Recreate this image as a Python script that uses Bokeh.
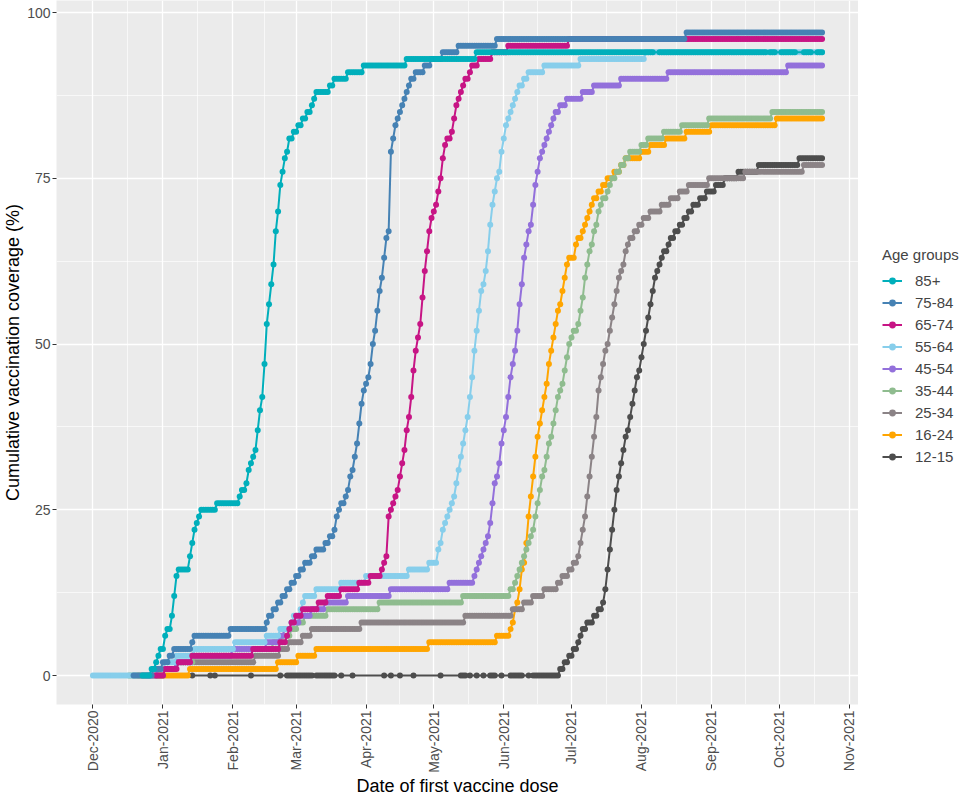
import datetime as dt
import numpy as np
from bokeh.plotting import figure
from bokeh.layouts import row
from bokeh.models import (FixedTicker, DatetimeTickFormatter, Legend, LegendItem,
                          ColumnDataSource, Range1d)
from bokeh.embed import file_html
from bokeh.resources import INLINE

# ---------------- data (day offsets from 1 Dec 2020, cumulative % first dose) -------------
START = dt.datetime(2020, 12, 1)
END_DAY = 323  # 20 Oct 2021

GROUPS = ["85+", "75-84", "65-74", "55-64", "45-54", "35-44", "25-34", "16-24", "12-15"]
COLORS = ["#00AFBB", "#4682B4", "#C71585", "#87CEEB", "#9370DB",
          "#8FBC8F", "#8B8386", "#FFA500", "#4D4D4D"]

# change points: value holds from that day until the next listed day
DAYS_85 = [22, 24, 26, 28, 29, 30, 32, 33, 35, 36, 37, 38, 43, 44, 45, 46, 47, 48, 55, 65,
           66, 68, 69, 70, 71, 72, 73, 74, 75, 76, 77, 78, 79, 80, 81, 82, 83, 84, 85, 86,
           87, 89, 91, 93, 95, 97, 98, 99, 105, 107, 113, 120, 139, 170]
VALS_85 = [0, 0, 1, 2, 3, 4, 6, 7, 9, 12, 15, 16, 18, 20, 22, 23, 24, 25, 26, 27,
           28, 29, 31, 32, 33, 34, 37, 40, 42, 47, 53, 56, 59, 62, 67, 70, 74, 76, 78, 79,
           81, 82, 83, 84, 85, 86, 87, 88, 89, 90, 91, 92, 93, 94]
MISSING_85 = [249, 250, 299, 303, 304, 312, 313, 314, 319, 320]

DAYS_75 = [18, 24, 27, 31, 34, 36, 44, 45, 61, 77, 78, 80, 82, 84, 86, 88, 90, 92, 94, 97,
           99, 103, 105, 107, 108, 109, 110, 112, 113, 114, 115, 116, 117, 118, 119, 120, 121,
           122, 123, 124, 125, 126, 127, 128, 129, 130, 131, 132, 133, 134, 135, 136, 137,
           138, 139, 140, 141, 143, 147, 150, 155, 162, 179, 263]
VALS_75 = [0, 0, 1, 2, 3, 4, 5, 6, 7, 8, 9, 10, 11, 12, 13, 14, 15, 16, 17, 18,
           19, 20, 21, 22, 24, 25, 26, 27, 28, 30, 31, 33, 35, 38, 41, 43, 44,
           45, 47, 50, 52, 55, 58, 60, 63, 66, 67, 79, 81, 83, 84, 85, 86,
           87, 88, 89, 90, 91, 92, 93, 94, 95, 96, 97]

DAYS_65 = [28, 32, 38, 44, 71, 83, 86, 87, 88, 90, 93, 100, 104, 110, 118, 123, 128, 129,
           130, 131, 132, 133, 134, 135, 136, 137, 138, 139, 140, 141, 142, 143, 144, 145,
           146, 147, 148, 149, 150, 151, 152, 153, 154, 155, 156, 157, 159, 160, 161, 162,
           163, 164, 165, 167, 168, 171, 177, 184, 211]
VALS_65 = [0, 1, 2, 3, 4, 5, 6, 7, 8, 9, 10, 11, 12, 13, 14, 15, 16, 17,
           18, 24, 25, 26, 27, 28, 30, 32, 34, 37, 39, 42, 46, 49, 51, 53,
           57, 61, 64, 67, 69, 70, 71, 73, 75, 78, 80, 81, 82, 84, 86, 87,
           88, 89, 90, 91, 92, 93, 94, 95, 96]

DAYS_55 = [0, 18, 27, 32, 37, 45, 63, 77, 83, 88, 89, 92, 93, 94, 99, 110, 121, 140, 149,
           153, 154, 155, 156, 157, 158, 159, 160, 161, 162, 163, 164, 165, 166, 167, 168,
           169, 170, 171, 172, 173, 174, 175, 176, 177, 178, 179, 180, 181, 182, 183, 184,
           185, 186, 187, 188, 189, 191, 193, 200, 216, 245]
VALS_55 = [0, 0, 1, 2, 3, 4, 5, 6, 7, 8, 9, 10, 11, 12, 13, 14, 15, 16, 17,
           19, 20, 22, 23, 24, 25, 26, 27, 29, 31, 33, 35, 37, 39, 42, 45,
           49, 52, 55, 58, 59, 61, 64, 68, 71, 73, 75, 76, 79, 81, 83, 84,
           85, 86, 87, 88, 89, 90, 91, 92, 93, 94]

DAYS_45 = [24, 29, 37, 44, 62, 77, 83, 85, 88, 92, 97, 103, 113, 132, 158, 169, 170, 171,
           172, 173, 174, 175, 176, 177, 178, 179, 180, 181, 182, 183, 184, 185, 186, 187,
           188, 189, 190, 191, 192, 193, 194, 195, 196, 197, 198, 199, 200, 201, 202, 203,
           204, 205, 207, 210, 217, 222, 234, 255, 308]
VALS_45 = [0, 1, 2, 3, 4, 5, 6, 7, 8, 9, 10, 11, 12, 13, 14, 15, 16, 17,
           18, 19, 20, 21, 23, 26, 29, 30, 32, 35, 37, 39, 42, 45, 47, 49,
           52, 56, 59, 63, 65, 67, 68, 71, 74, 76, 78, 79, 80, 81, 82, 83,
           84, 85, 86, 87, 88, 89, 90, 91, 92]

DAYS_35 = [16, 29, 37, 45, 71, 80, 84, 88, 91, 94, 104, 127, 164, 185, 187, 188, 189, 190,
           191, 192, 193, 194, 195, 196, 197, 198, 199, 200, 201, 202, 203, 204, 205, 206,
           207, 208, 209, 210, 211, 212, 213, 214, 215, 216, 217, 218, 219, 220, 221, 222,
           223, 224, 225, 226, 227, 228, 229, 230, 231, 232, 234, 236, 238, 243, 246, 253,
           261, 273, 301]
VALS_35 = [0, 1, 2, 3, 4, 5, 6, 7, 8, 9, 10, 11, 12, 13, 14, 15, 16, 17,
           18, 19, 20, 21, 22, 24, 26, 28, 30, 31, 33, 35, 36, 38, 40, 42,
           43, 44, 46, 48, 50, 51, 52, 52, 53, 55, 57, 60, 62, 64, 65, 67,
           68, 70, 71, 72, 72, 73, 74, 75, 75, 76, 77, 78, 79, 80, 81, 82,
           83, 84, 85]

DAYS_25 = [27, 32, 37, 72, 83, 87, 93, 97, 119, 165, 186, 191, 195, 200, 206, 208, 211, 213,
           215, 216, 217, 218, 219, 220, 221, 222, 223, 224, 225, 226, 227, 228, 229, 230,
           231, 232, 233, 234, 235, 236, 237, 238, 240, 242, 244, 247, 252, 256, 260, 264,
           273, 289, 315]
VALS_25 = [0, 1, 2, 3, 4, 5, 6, 7, 8, 9, 10, 11, 12, 13, 14, 15, 16, 17,
           18, 20, 22, 24, 27, 30, 33, 36, 39, 43, 45, 47, 49, 50, 52, 54,
           56, 58, 60, 61, 62, 64, 65, 66, 67, 68, 69, 70, 71, 72, 73, 74,
           75, 76, 77]

DAYS_16 = [20, 43, 82, 91, 99, 149, 179, 185, 186, 187, 188, 189, 190, 191, 192, 193, 194,
           195, 196, 197, 198, 199, 200, 201, 202, 203, 204, 205, 206, 207, 208, 209, 210,
           211, 214, 215, 217, 218, 219, 220, 221, 222, 224, 226, 228, 231, 234, 236, 243,
           247, 254, 263, 274, 303]
VALS_16 = [0, 1, 2, 3, 4, 5, 6, 7, 8, 10, 11, 13, 16, 17, 20, 24, 27,
           30, 33, 36, 38, 40, 42, 44, 47, 49, 51, 53, 55, 56, 58, 60, 62,
           63, 65, 66, 67, 68, 69, 70, 71, 72, 73, 74, 75, 76, 77, 78, 79,
           80, 81, 82, 83, 84]

ZERO_DAYS_12 = [44, 52, 54, 70, 83, 86, 87, 88, 89, 90, 91, 92, 93, 94, 95, 96, 97, 99, 100,
                101, 102, 103, 104, 105, 106, 107, 110, 115, 129, 132, 136, 142, 154, 163,
                164, 165, 167, 170, 173, 176, 177, 178, 181, 185, 186, 187, 188, 189, 190,
                193, 195, 196, 197, 198, 199, 200, 201, 202, 203, 204, 205, 206]
DAYS_12 = [207, 209, 211, 213, 215, 216, 217, 219, 222, 224, 226, 227, 228, 229, 230, 231,
           232, 233, 234, 235, 236, 237, 238, 239, 240, 241, 242, 243, 244, 245, 246, 247,
           248, 249, 250, 251, 252, 253, 255, 256, 258, 260, 262, 264, 266, 269, 272, 276,
           280, 286, 295, 313]
VALS_12 = [1, 2, 3, 4, 5, 6, 7, 8, 9, 10, 11, 13, 16, 19, 22, 25,
           28, 30, 32, 34, 36, 37, 39, 41, 43, 45, 46, 48, 50, 52, 54, 56,
           58, 60, 61, 62, 63, 64, 65, 66, 67, 68, 69, 70, 71, 72, 73, 74,
           75, 76, 77, 78]

Y_TICKS = [0, 25, 50, 75, 100]
MONTH_STARTS = [dt.datetime(2020, 12, 1)] + [dt.datetime(2021, m, 1) for m in range(1, 12)]


def expand(days, vals, skip=()):
    assert len(days) == len(vals)
    out_d, out_v = [], []
    j = 0
    for d in range(days[0], END_DAY + 1):
        while j + 1 < len(days) and days[j + 1] <= d:
            j += 1
        if d in skip:
            continue
        out_d.append(d)
        out_v.append(vals[j])
    return out_d, out_v


series = {
    "85+": expand(DAYS_85, VALS_85, MISSING_85),
    "75-84": expand(DAYS_75, VALS_75),
    "65-74": expand(DAYS_65, VALS_65),
    "55-64": expand(DAYS_55, VALS_55),
    "45-54": expand(DAYS_45, VALS_45),
    "35-44": expand(DAYS_35, VALS_35),
    "25-34": expand(DAYS_25, VALS_25),
    "16-24": expand(DAYS_16, VALS_16),
}
d12, v12 = expand(DAYS_12, VALS_12)
series["12-15"] = (ZERO_DAYS_12 + d12, [0] * len(ZERO_DAYS_12) + v12)

# ---------------- main figure ----------------
FIG_H = 798
x0 = START + dt.timedelta(days=-16.15)
x1 = START + dt.timedelta(days=END_DAY + 16.15)

p = figure(x_axis_type="datetime", output_backend="svg", toolbar_location=None,
           width=858, height=FIG_H,
           min_border_left=49, min_border_right=0, min_border_top=0, min_border_bottom=93,
           x_range=Range1d(x0, x1), y_range=Range1d(-4.37, 101.81))

p.background_fill_color = "#EBEBEB"
p.border_fill_color = "white"
p.outline_line_color = None

to_ms = lambda t: (t - dt.datetime(1970, 1, 1)).total_seconds() * 1000.0
major_ms = [to_ms(t) for t in MONTH_STARTS]
minor_ms = [(a + b) / 2 for a, b in zip(major_ms[:-1], major_ms[1:])]
p.xaxis.ticker = FixedTicker(ticks=major_ms, minor_ticks=minor_ms)
fmt = "%b-%Y"
p.xaxis.formatter = DatetimeTickFormatter(milliseconds=fmt, seconds=fmt, minsec=fmt, minutes=fmt,
                                          hourmin=fmt, hours=fmt, days=fmt, months=fmt, years=fmt)
p.xaxis.major_label_orientation = np.pi / 2
p.yaxis.ticker = FixedTicker(ticks=Y_TICKS, minor_ticks=[12.5, 37.5, 62.5, 87.5])

for ax in (p.xaxis[0], p.yaxis[0]):
    ax.axis_line_color = None
    ax.major_tick_line_color = "#333333"
    ax.major_tick_out = 4
    ax.major_tick_in = 0
    ax.minor_tick_line_color = None
    ax.major_label_text_font = "Liberation Sans"
    ax.major_label_text_font_size = "14px"
    ax.major_label_text_color = "#4D4D4D"
    ax.major_label_standoff = 2
    ax.axis_label_text_font = "Liberation Sans"
    ax.axis_label_text_font_size = "18px"
    ax.axis_label_text_font_style = "normal"
    ax.axis_label_text_color = "black"
    ax.axis_label_standoff = 1
p.xaxis.axis_label_standoff = 0

p.xaxis.axis_label = "Date of first vaccine dose"
p.yaxis.axis_label = "Cumulative vaccination coverage (%)"

for g in (p.xgrid[0], p.ygrid[0]):
    g.grid_line_color = "white"
    g.grid_line_width = 1.3
    g.minor_grid_line_color = "white"
    g.minor_grid_line_width = 0.65

for name, col in reversed(list(zip(GROUPS, COLORS))):
    days, vals = series[name]
    src = ColumnDataSource(dict(x=[START + dt.timedelta(days=d) for d in days], y=vals))
    p.line("x", "y", source=src, line_color=col, line_width=2)
    p.scatter("x", "y", source=src, marker="circle", size=6,
              fill_color=col, line_color=col, line_width=0)

# ---------------- legend panel (separate figure, key glyphs only) ----------------
lf = figure(width=107, height=FIG_H, output_backend="svg", toolbar_location=None,
            x_axis_location=None, y_axis_location=None, min_border=0,
            x_range=Range1d(0, 1), y_range=Range1d(0, 1))
lf.xgrid.visible = False
lf.ygrid.visible = False
lf.outline_line_color = None
lf.background_fill_color = "white"
lf.border_fill_color = "white"

items = []
for name, col in zip(GROUPS, COLORS):
    # placeholder renderers (no drawable data) that only supply the legend key style
    key_src = ColumnDataSource(dict(x=[np.nan], y=[np.nan]))
    lr = lf.line("x", "y", source=key_src, line_color=col, line_width=2)
    sr = lf.scatter("x", "y", source=key_src, marker="circle", size=6, fill_color=col,
                    line_color=col, line_width=0)
    items.append(LegendItem(label=name, renderers=[lr, sr]))

legend = Legend(items=items, location=(24, 239), title="Age groups")
legend.title_text_font = "Liberation Sans"
legend.title_text_font_size = "15px"
legend.title_text_font_style = "normal"
legend.title_standoff = 9
legend.label_text_font = "Liberation Sans"
legend.label_text_font_size = "15px"
legend.glyph_width = 20
legend.glyph_height = 17
legend.label_height = 17
legend.spacing = 5
legend.label_standoff = 13
legend.border_line_color = None
legend.background_fill_alpha = 0
legend.padding = 0
legend.margin = 0
lf.add_layout(legend, "center")

layout = row(p, lf)
open("out.html", "w").write(file_html(layout, INLINE))
